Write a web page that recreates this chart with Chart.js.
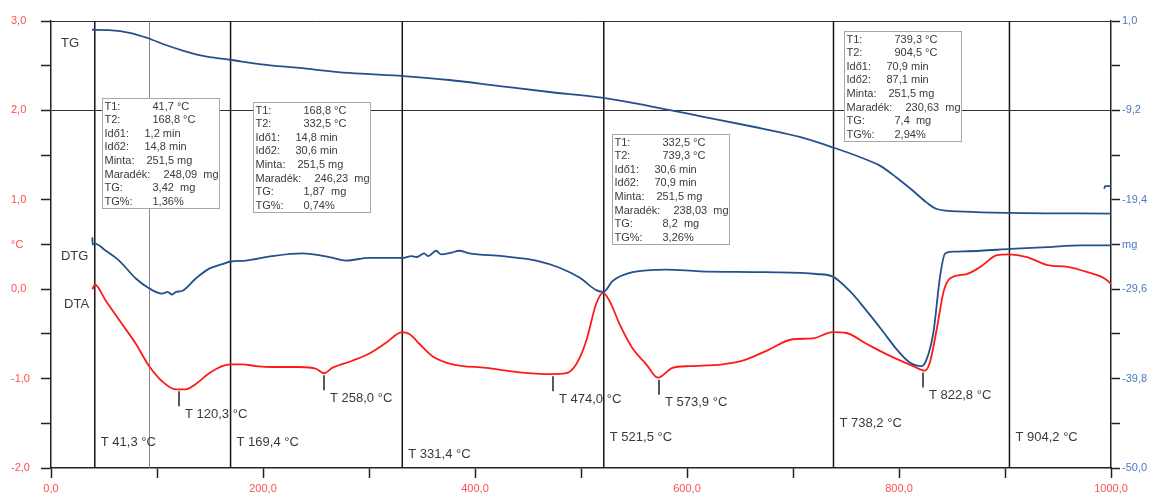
<!DOCTYPE html>
<html>
<head>
<meta charset="utf-8">
<script src="https://cdn.jsdelivr.net/npm/chart.js@4.4.0/dist/chart.umd.min.js"></script>
<style>
    html, body { margin: 0; padding: 0; background: #fff; }
    #wrap { width: 1150px; height: 496px; }
</style>
</head>
<body>
<div id="wrap"><canvas id="thermoChart" width="1150" height="496"></canvas></div>
<script>
// TG curve (mg, right axis)
const tgTemp = [38.7, 54.8, 76.5, 91.6, 108.3, 125.0, 139.8, 155.0, 168.8,
    196.4, 234.2, 281.4, 332.5, 375.8, 423.0, 470.3, 521.2,
    564.7, 611.9, 659.1, 706.3, 739.3,
    763.0, 781.9, 797.6, 813.5, 826.2, 835.7, 861.0, 904.5, 1000];
const tgMass = [0.00, -0.03, -0.40, -0.97, -1.74, -2.40, -2.88, -3.20, -3.42,
    -3.91, -4.36, -4.93, -5.29, -5.73, -6.42, -7.10, -7.78,
    -8.70, -9.84, -10.98, -12.23, -13.49,
    -14.52, -15.50, -16.85, -18.40, -19.72, -20.45, -20.75, -20.89, -20.97];
const tgTailTemp = [993.6, 994.4, 1000];
const tgTailMass = [-18.15, -17.85, -17.85];

// DTG curve (left axis)
const dtgTemp = [39.0, 39.3, 41.5, 51.7, 64.2, 80.0, 92.5, 104.8, 110, 114.3,
    118, 123.7, 136.6, 149.2, 161.5, 169.7, 183.9, 208.7, 237.0, 262.5,
    278.3, 300.3, 331.4, 340, 345, 352, 356, 363.3, 368, 378,
    385, 394.7, 425.9, 457.7, 479.7, 498.6, 514.4, 521.2, 529.7, 548.6,
    580.5, 611.9, 674.9, 722.1, 737.5, 753.5, 769.3, 784.7, 797.6, 810.2,
    821.5, 826.2, 832.5, 838.8, 843.5, 851.4, 876.8, 905.3, 940.1, 971.7, 1000];
const dtgValue = [0.58, 0.50, 0.51, 0.43, 0.32, 0.12, 0.01, -0.05, -0.03, -0.06,
    -0.03, -0.02, 0.12, 0.23, 0.28, 0.31, 0.32, 0.37, 0.40, 0.36,
    0.32, 0.35, 0.35, 0.37, 0.36, 0.40, 0.37, 0.43, 0.39, 0.41,
    0.43, 0.40, 0.37, 0.32, 0.24, 0.13, -0.01, -0.03, 0.09, 0.19,
    0.22, 0.20, 0.19, 0.17, 0.14, -0.02, -0.24, -0.47, -0.67, -0.82,
    -0.86, -0.78, -0.48, 0.15, 0.40, 0.42, 0.43, 0.45, 0.47, 0.49, 0.49];

// DTA curve (°C, left axis)
const dtaTemp = [39.0, 41.5, 51.7, 67.0, 80.0, 92.5, 104.8, 117.8, 127.2, 136.6,
    149.2, 161.5, 169.7, 180.4, 193.3, 208.7, 234.2, 250.0, 257.8, 265.3,
    284.2, 300.3, 316.1, 331.2, 338.1, 347.5, 359.8, 378.7, 410.5, 441.9,
    470.3, 486.0, 495.5, 504.9, 514.4, 520.8, 526.9, 536.4, 548.6, 561.6,
    572.5, 586.4, 602.5, 633.6, 652.5, 674.9, 699.7, 718.6, 737.5, 750.4,
    769.3, 781.9, 797.6, 813.5, 824.4, 829.1, 835.7, 842.0, 848.0, 864.0,
    876.8, 892.4, 903.7, 920.7, 940.1, 959.0, 978.0, 993.9, 1000];
const dtaValue = [0.00, 0.05, -0.13, -0.39, -0.61, -0.86, -1.03, -1.12, -1.12, -1.06,
    -0.94, -0.86, -0.84, -0.84, -0.86, -0.87, -0.87, -0.89, -0.94, -0.88,
    -0.80, -0.72, -0.60, -0.48, -0.50, -0.61, -0.75, -0.84, -0.88, -0.93,
    -0.95, -0.94, -0.84, -0.58, -0.16, -0.04, -0.13, -0.39, -0.66, -0.84,
    -0.99, -0.88, -0.86, -0.84, -0.80, -0.69, -0.56, -0.55, -0.48, -0.49,
    -0.61, -0.69, -0.78, -0.86, -0.91, -0.82, -0.44, -0.03, 0.12, 0.17,
    0.25, 0.38, 0.39, 0.36, 0.27, 0.25, 0.19, 0.12, 0.06];

// axis ticks
const xTicks = [0, 100, 200, 300, 400, 500, 600, 700, 800, 900, 1000];
const xTickLabels = ['0,0', '', '200,0', '', '400,0', '', '600,0', '', '800,0', '', '1000,0'];
const leftTicks = [-2, -1.5, -1, -0.5, 0, 0.5, 1, 1.5, 2, 2.5, 3];
const leftTickLabels = ['-2,0', '', '-1,0', '', '0,0', '°C', '1,0', '', '2,0', '', '3,0'];
const rightTicks = [-50.0, -44.9, -39.8, -34.7, -29.6, -24.5, -19.4, -14.3, -9.2, -4.1, 1.0];
const rightTickLabels = ['-50,0', '', '-39,8', '', '-29,6', 'mg', '-19,4', '', '-9,2', '', '1,0'];

// event temperatures (vertical lines) and DTA peak markers
const eventTemps = [41.3, 169.4, 331.4, 521.5, 738.2, 904.2];
const guideTemps = [92.1];
const peakTemps = [120.3, 258.0, 474.0, 573.9, 822.8];
const peakDta = [-1.12, -0.94, -0.95, -0.99, -0.91];

// info boxes
const boxT1 = ['41,7', '168,8', '332,5', '739,3'];
const boxT2 = ['168,8', '332,5', '739,3', '904,5'];
const boxIdo1 = ['1,2', '14,8', '30,6', '70,9'];
const boxIdo2 = ['14,8', '30,6', '70,9', '87,1'];
const boxMinta = ['251,5', '251,5', '251,5', '251,5'];
const boxMaradek = ['248,09', '246,23', '238,03', '230,63'];
const boxTG = ['3,42', '1,87', '8,2', '7,4'];
const boxTGpct = ['1,36', '0,74', '3,26', '2,94'];

// layout of the annotation layer (axis units)
const eventLabelLevels = [-1.71, -1.71, -1.85, -1.66, -1.50, -1.66];
const boxAnchorT = [48.2, 190.7, 529.3, 747.9];
const boxAnchorV = [2.14, 2.09, 1.74, 2.89];
const curveNames = ['TG', 'DTG', 'DTA'];
const curveNameT = [9.4, 9.4, 12.3];
const curveNameV = [2.75, 0.37, -0.17];

const FONT = "'Liberation Sans', Arial, sans-serif";
const RED = '#ff4d4d';
const BLUE = '#4a78c2';
const CURVE_BLUE = '#24508e';
const TEXT = '#3a3a3a';

const fmt = v => v.toFixed(1).replace('.', ',');
const toPoints = (xs, ys) => xs.map((t, i) => ({ x: t, y: ys[i] }));

function strokeLine(ctx, x1, y1, x2, y2) {
    ctx.beginPath();
    ctx.moveTo(x1, y1);
    ctx.lineTo(x2, y2);
    ctx.stroke();
}

// Lines, info boxes and text labels
const thermoAnnotations = {
    id: 'thermoAnnotations',
    beforeDatasetsDraw(chart) {
        const { ctx, chartArea: a, scales: { x, y } } = chart;
        ctx.save();

        ctx.strokeStyle = '#8a8a8a';
        ctx.lineWidth = 1;
        guideTemps.forEach(t => {
            const px = Math.round(x.getPixelForValue(t)) + 0.5;
            strokeLine(ctx, px, a.top, px, a.bottom);
        });

        ctx.strokeStyle = '#151515';
        ctx.lineWidth = 1.5;
        eventTemps.forEach(t => {
            const px = x.getPixelForValue(t);
            strokeLine(ctx, px, a.top, px, a.bottom);
        });

        const rowLabels = ['T1:', 'T2:', 'Idő1:', 'Idő2:', 'Minta:', 'Maradék:', 'TG:', 'TG%:'];
        const rowTabs = [50, 50, 42, 42, 44, 61, 50, 50];
        ctx.font = '11px ' + FONT;
        ctx.textBaseline = 'middle';
        boxAnchorT.forEach((t, i) => {
            const bx = Math.round(x.getPixelForValue(t)) + 0.5;
            const by = Math.round(y.getPixelForValue(boxAnchorV[i])) + 0.5;
            ctx.fillStyle = '#fff';
            ctx.fillRect(bx, by, 117, 110);
            ctx.strokeStyle = '#a8a8a8';
            ctx.lineWidth = 1;
            ctx.strokeRect(bx, by, 117, 110);
            const values = [
                boxT1[i] + ' °C', boxT2[i] + ' °C',
                boxIdo1[i] + ' min', boxIdo2[i] + ' min',
                boxMinta[i] + ' mg', boxMaradek[i] + '  mg',
                boxTG[i] + '  mg', boxTGpct[i] + '%'
            ];
            ctx.fillStyle = TEXT;
            rowLabels.forEach((lbl, r) => {
                const ty = by + 8 + r * 13.6;
                ctx.textAlign = 'left';
                ctx.fillText(lbl, bx + 2, ty);
                ctx.fillText(values[r], bx + rowTabs[r], ty);
            });
        });
        ctx.restore();
    },
    afterDatasetsDraw(chart) {
        const { ctx, scales: { x, y } } = chart;
        ctx.save();
        ctx.fillStyle = TEXT;
        ctx.textAlign = 'left';
        ctx.textBaseline = 'middle';
        ctx.font = '13px ' + FONT;

        eventTemps.forEach((t, i) => {
            ctx.fillText('T ' + fmt(t) + ' °C', x.getPixelForValue(t) + 6, y.getPixelForValue(eventLabelLevels[i]));
        });

        ctx.strokeStyle = '#222';
        ctx.lineWidth = 1.5;
        peakTemps.forEach((t, i) => {
            const px = Math.round(x.getPixelForValue(t));
            const top = y.getPixelForValue(peakDta[i]) + 2;
            strokeLine(ctx, px, top, px, top + 15);
            ctx.fillText('T ' + fmt(t) + ' °C', px + 6, top + 23);
        });

        curveNames.forEach((name, i) => {
            ctx.fillText(name, x.getPixelForValue(curveNameT[i]), y.getPixelForValue(curveNameV[i]));
        });
        ctx.restore();
    }
};

const ctx = document.getElementById('thermoChart').getContext('2d');

new Chart(ctx, {
    type: 'line',
    data: {
        datasets: [
            { label: 'TG', data: toPoints(tgTemp, tgMass), yAxisID: 'y2', borderColor: CURVE_BLUE },
            { label: 'TG tail', data: toPoints(tgTailTemp, tgTailMass), yAxisID: 'y2', borderColor: CURVE_BLUE },
            { label: 'DTG', data: toPoints(dtgTemp, dtgValue), yAxisID: 'y', borderColor: CURVE_BLUE },
            { label: 'DTA', data: toPoints(dtaTemp, dtaValue), yAxisID: 'y', borderColor: '#ff1a1a' }
        ]
    },
    options: {
        responsive: false,
        animation: false,
        layout: { padding: { left: 11, top: 21, right: 0, bottom: 0 } },
        elements: {
            point: { radius: 0 },
            line: { borderWidth: 1.8, cubicInterpolationMode: 'monotone', fill: false }
        },
        plugins: {
            legend: { display: false },
            tooltip: { enabled: false }
        },
        scales: {
            x: {
                type: 'linear',
                min: 0,
                max: 1000,
                afterBuildTicks: s => { s.ticks = xTicks.map(v => ({ value: v })); },
                afterFit: s => { s.height = 28; },
                ticks: {
                    autoSkip: false,
                    maxRotation: 0,
                    padding: 4,
                    color: RED,
                    font: { family: FONT, size: 11 },
                    callback: (v, i) => xTickLabels[i]
                },
                grid: { drawOnChartArea: false, tickLength: 10, tickColor: '#222', tickWidth: 1.5 },
                border: { color: '#222', width: 1.5 }
            },
            y: {
                position: 'left',
                min: -2,
                max: 3,
                afterBuildTicks: s => { s.ticks = leftTicks.map(v => ({ value: v })); },
                afterFit: s => { s.width = 40; },
                ticks: {
                    autoSkip: false,
                    crossAlign: 'far',
                    color: RED,
                    font: { family: FONT, size: 11 },
                    callback: (v, i) => leftTickLabels[i]
                },
                grid: {
                    color: c => (c.tick && (c.tick.value === 2 || c.tick.value === 3)) ? '#333' : 'rgba(0,0,0,0)',
                    lineWidth: 1,
                    tickLength: 10,
                    tickColor: '#222',
                    tickWidth: 1.5
                },
                border: { color: '#222', width: 1.5 }
            },
            y2: {
                position: 'right',
                min: -50,
                max: 1,
                afterBuildTicks: s => { s.ticks = rightTicks.map(v => ({ value: v })); },
                afterFit: s => { s.width = 39; },
                ticks: {
                    autoSkip: false,
                    padding: 2,
                    color: BLUE,
                    font: { family: FONT, size: 11 },
                    callback: (v, i) => rightTickLabels[i]
                },
                grid: { drawOnChartArea: false, tickLength: 9, tickColor: '#222', tickWidth: 1.5 },
                border: { color: '#222', width: 1.5 }
            }
        }
    },
    plugins: [thermoAnnotations]
});
</script>
</body>
</html>
